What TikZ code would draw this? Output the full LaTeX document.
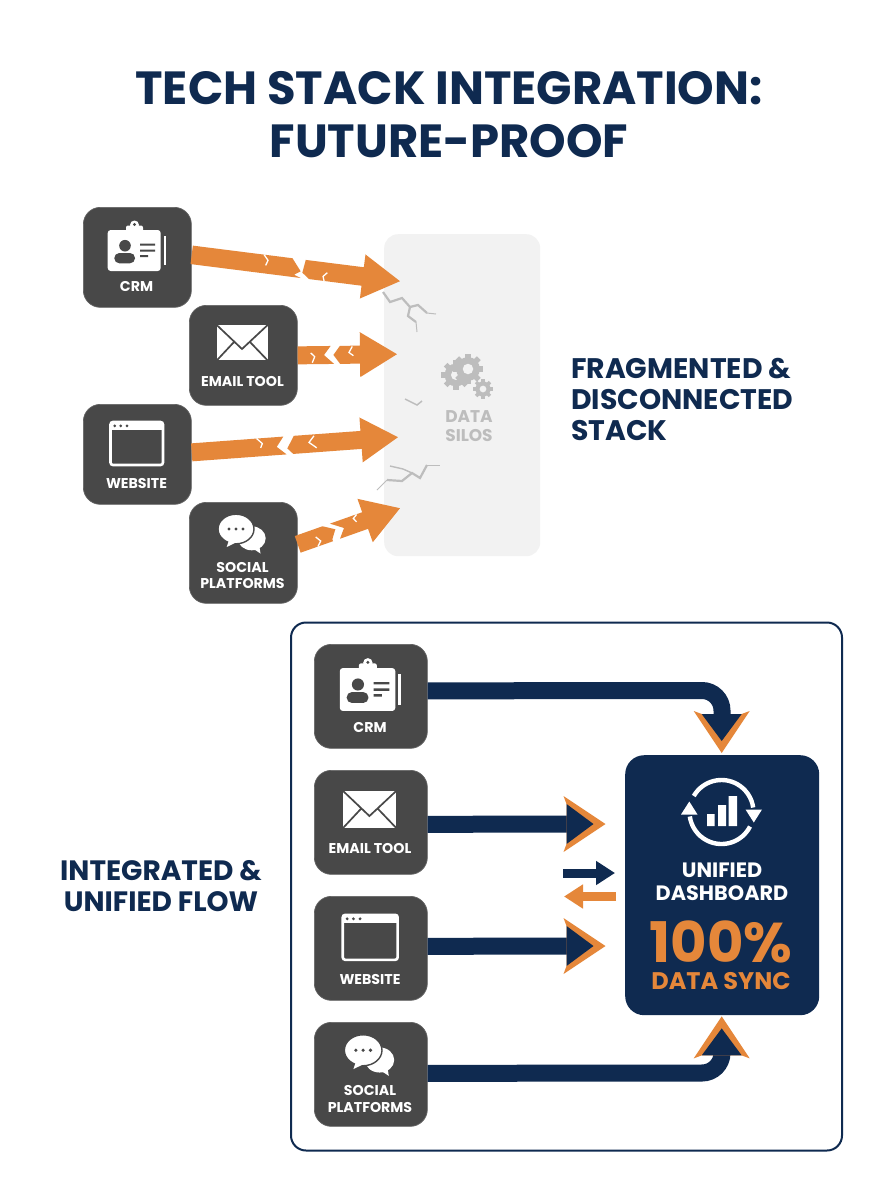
\documentclass[tikz,border=0pt]{standalone}
\usepackage{fontspec}
\setmainfont{Poppins}
\usetikzlibrary{calc,arrows.meta}
\definecolor{navy}{HTML}{0F2A50}
\definecolor{orng}{HTML}{E5873A}
\definecolor{cardc}{HTML}{484848}
\definecolor{siloc}{HTML}{F2F2F2}
\definecolor{greyt}{HTML}{BDBDBD}
\tikzset{
  cardbox/.style={draw=cardc!85!white,line width=.7pt,fill=cardc,rounded corners=17pt,inner sep=0pt,anchor=north west},
  cardlbl/.style={text=white,font=\bfseries\fontsize{14.2}{16.3}\selectfont,inner sep=0pt,align=center},
  headline/.style={text=navy,font=\bfseries\fontsize{#1}{#1}\selectfont,inner sep=0pt},
  crackl/.style={draw=#1,line width=2.2pt,line join=miter},
  whitecrack/.style={draw=white,line width=1.3pt},
  navyshaft/.style={draw=navy,line width=17pt},
  crmicon/.pic={
    \fill[white,rounded corners=3pt] (24.7,23) rectangle (77.7,64);
    \fill[white,rounded corners=2pt] (43,18.5) rectangle (60,26);
    \fill[white] (51.5,18) circle[radius=4.5pt];
    \fill[cardc] (51.5,17.5) circle[radius=1.6pt];
    \fill[white] (80.5,29) rectangle (82.7,58);
    \fill[cardc] (42,38.7) circle[radius=5.8pt];
    \fill[cardc,rounded corners=5pt] (31.3,56.3) -- (31.3,46) -- (52,46) -- (52,56.3) -- cycle;
    \fill[cardc] (57,36.5) rectangle (72,38.7) (57,42.5) rectangle (72,44.7) (57,48) rectangle (65,50.2);
  },
  mailicon/.pic={
    \fill[white] (27.7,20) rectangle (78.7,55);
    \draw[cardc,line width=1.7pt] (27.2,19.5) -- (53,44) -- (79.2,19.5) (27.7,55.5) -- (45,37) (78.7,55.5) -- (61,37);
  },
  webicon/.pic={
    \draw[white,line width=2.6pt,rounded corners=2.5pt] (27.5,18) rectangle (80,61);
    \fill[white] (27.5,18) rectangle (80,26);
    \fill[cardc] (31.7,21.8) circle[radius=1.5pt] (37.7,21.8) circle[radius=1.5pt] (44,21.8) circle[radius=1.5pt];
  },
  chaticon/.pic={
    \fill[white] (62.7,36.3) ellipse[x radius=14pt,y radius=12pt];
    \fill[white] (60,44) -- (71.5,51.5) -- (70,42) -- cycle;
    \fill[white,draw=cardc,line width=1.4pt] (47,27) ellipse[x radius=18pt,y radius=14.8pt];
    \fill[white] (40,38) -- (37.7,45) -- (48,40) -- cycle;
    \fill[cardc] (40,27) circle[radius=1.7pt] (47,27) circle[radius=1.7pt] (54,27) circle[radius=1.7pt];
  }
}
% cracked arrow: from, to, shaft half width, head half width, head length, left break, right break, cracks
\newcommand\brokenarrow[8]{%
  \path let \p1=($(#2)-(#1)$) in \pgfextra{\pgfmathsetmacro\arang{atan2(\y1,\x1)}\pgfmathsetmacro\arlen{veclen(\x1,\y1)}\xdef\arang{\arang}\xdef\arlen{\arlen}};
  \begin{scope}[shift={(#1)},rotate=\arang]
    \fill[orng] (0,-#3) -- #6 -- (0,#3) -- cycle;
    \fill[orng] #7 -- (\arlen-#5,#3) -- (\arlen-#5,#4) -- (\arlen,0) -- (\arlen-#5,-#4) -- (\arlen-#5,-#3) -- cycle;
    \draw[whitecrack] #8;
  \end{scope}}
% orange and navy arrow head: tip, direction
\newcommand\chevronhead[2]{%
  \begin{scope}[shift={(#1)},rotate=#2]
    \fill[orng] (0,0) -- (-42,-28) -- (-39,-20) -- (-39,20) -- (-42,28) -- cycle;
    \fill[navy] (-12,0) -- (-39,-20) -- (-39,20) -- cycle;
  \end{scope}}
\newcommand\gearicon[3]{%
  \foreach \a in {0,45,...,315}{\fill[greyt,shift={(#1,#2)},rotate=\a] (-#3*.22,0) rectangle (#3*.22,#3*1.22);}
  \fill[greyt] (#1,#2) circle[radius=#3*.95pt];
  \fill[siloc] (#1,#2) circle[radius=#3*.42pt];}
\begin{document}
\begin{tikzpicture}[x=1pt,y=-1pt]
\useasboundingbox (0,0) rectangle (896,1200);
\fill[white] (0,0) rectangle (896,1200);
% title
\node[headline=46.5] (title1) at (449,88) {TECH STACK INTEGRATION:};
\node[headline=46.5] (title2) at (449,141) {FUTURE-PROOF};
% silo
\node[fill=siloc,rounded corners=14pt,inner sep=0pt,minimum width=156pt,minimum height=322pt,anchor=north west] (silo) at (384,234) {};
\draw[crackl=greyt] (383,292) -- (390,302) -- (402,298) -- (410,307) -- (418,305) -- (427,313);
\draw[crackl=greyt,line width=1pt] (427,313) -- (436,314);
\draw[crackl=greyt] (410,307) -- (408,316) -- (416,322);
\draw[crackl=greyt,line width=1pt] (416,322) -- (417,332);
\draw[crackl=greyt,line width=1.5pt] (405,399) -- (417,405) -- (422,401);
\draw[crackl=greyt,line width=1pt] (377,490) -- (387,480);
\draw[crackl=greyt] (387,480) -- (402,481) -- (412,473) -- (420,478) -- (427,465);
\draw[crackl=greyt,line width=1pt] (427,465) -- (440,465);
\draw[crackl=greyt,line width=1.4pt] (390,466) -- (403,469) -- (412,473);
\gearicon{456}{375}{12}
\gearicon{468}{369}{12.5}
\gearicon{483}{389}{8}
\node[text=greyt,font=\bfseries\fontsize{17}{19}\selectfont,align=center,inner sep=0pt] (silotxt) at (469,426.5) {DATA\\SILOS};
\node[headline=25,align=left,anchor=west,font=\bfseries\fontsize{28.3}{31}\selectfont] (fraglbl) at (571,399) {FRAGMENTED \&\\DISCONNECTED\\STACK};
% upper cards
\node[cardbox,minimum width=108pt,minimum height=100pt] (crma) at (83,207) {};
\pic at (83,207) {crmicon};
\node[cardlbl] (crmat) at (136.5,286.7) {CRM};
\node[cardbox,minimum width=108pt,minimum height=100pt] (maila) at (189,305) {};
\pic at (189,305) {mailicon};
\node[cardlbl] (mailat) at (242.5,381) {EMAIL TOOL};
\node[cardbox,minimum width=108pt,minimum height=100pt] (weba) at (83,404) {};
\pic at (83,404) {webicon};
\node[cardlbl] (webat) at (136.5,483) {WEBSITE};
\node[cardbox,minimum width=108pt,minimum height=101pt] (chata) at (189,502) {};
\pic at (189,502) {chaticon};
\node[cardlbl] (chatat) at (242.5,575.7) {SOCIAL\\PLATFORMS};
% broken arrows
\coordinate (fa) at ($(crma.east)+(0,-2.5)$);
\coordinate (fb) at (maila.east);
\coordinate (fc) at ($(weba.east)+(0,-2)$);
\coordinate (fd) at ($(chata.east)+(0,-8.5)$);
\coordinate (ta) at ($(silo.west)+(16,-114)$);
\coordinate (tb) at ($(silo.west)+(13,-41)$);
\coordinate (tc) at ($(silo.west)+(14,42)$);
\coordinate (td) at ($(silo.west)+(16,113)$);
\brokenarrow{fa}{ta}{9.3}{22.2}{37.6}{(100.4,-9.3)--(110.2,2.7)--(104,6.9)--(111,9.3)}{(113.8,-9.3)--(112,3.8)--(119.5,9.3)}{(71.8,-9.3)--(76.4,-4.1)--(74.7,1.2) (136.8,.7)--(133,4.9)--(134.6,9.3)}
\brokenarrow{fb}{tb}{9}{22.5}{37}{(33,-9)--(26.3,0)--(36.3,9)}{(42.3,-9)--(35.7,0)--(42.3,9)}{(13,-2.3)--(17,1.5)--(14.5,7.5) (54.7,-8.3)--(51.3,-2.3)--(55.7,1)}
\brokenarrow{fc}{tc}{9}{22.5}{37}{(92.5,-9)--(85.2,.8)--(94.6,9)}{(103,-9)--(95.7,3.1)--(101.2,9)}{(65.8,-9)--(71.1,-3.6)--(69.1,.6) (123.1,-7.5)--(117.7,-1.3)--(125,4.6)}
\brokenarrow{fd}{td}{8.8}{23}{37}{(29.4,-8.8)--(40.5,-1.7)--(34.4,6.7)--(34.4,8.8)}{(37.3,-8.8)--(49.1,0)--(41.8,8.8)}{(19.4,-1)--(22.8,4.5)--(18.3,8.8) (65.5,-8.6)--(61.1,-5.9)--(63,-1.6)}
% lower frame
\node[draw=navy,line width=2pt,fill=white,rounded corners=15pt,inner sep=0pt,minimum width=551pt,minimum height=528pt,anchor=north west] (frame) at (290,621.5) {};
\node[headline=25,align=center,font=\bfseries\fontsize{28}{31}\selectfont] (intlbl) at (161,886.5) {INTEGRATED \&\\UNIFIED FLOW};
% dashboard
\node[fill=navy,rounded corners=19pt,inner sep=0pt,minimum width=194pt,minimum height=260pt,anchor=north west] (dash) at (625,755) {};
\coordinate (sc) at (721.5,812);
\draw[white,line width=4.4pt] ([shift={(150:32pt)}]sc) arc[start angle=150,end angle=8,radius=32pt];
\draw[white,line width=4.4pt] ([shift={(-27:32pt)}]sc) arc[start angle=-27,end angle=-172,radius=32pt];
\fill[white] (745.5,809.5) -- (762,809.5) -- (753.8,822.5) -- cycle;
\fill[white] (681,814.5) -- (697.5,814.5) -- (689.3,801.5) -- cycle;
\fill[white] (707,814) rectangle (714.5,826) (718,805) rectangle (726,826) (728.5,796) rectangle (737,826);
\node[text=white,font=\bfseries\fontsize{20.8}{23}\selectfont,align=center,inner sep=0pt] (dasht) at (722,881.5) {UNIFIED\\DASHBOARD};
\node[text=orng,font=\bfseries\fontsize{24}{27}\selectfont,align=center,inner sep=0pt,anchor=south] (dashp) at (721,989.5) {{\fontsize{56}{27}\selectfont 100\%}\\DATA SYNC};
% lower cards
\node[cardbox,minimum width=113pt,minimum height=104pt] (crmb) at (314,644) {};
\pic[scale=1.046] at (314,644) {crmicon};
\node[cardlbl] (crmbt) at (370,727) {CRM};
\node[cardbox,minimum width=113pt,minimum height=104pt] (mailb) at (314,770) {};
\pic[scale=1.046] at (314,770) {mailicon};
\node[cardlbl] (mailbt) at (370,848) {EMAIL TOOL};
\node[cardbox,minimum width=113pt,minimum height=104pt] (webb) at (314,896) {};
\pic[scale=1.046] at (314,896) {webicon};
\node[cardlbl] (webbt) at (370,979) {WEBSITE};
\node[cardbox,minimum width=113pt,minimum height=104pt] (chatb) at (314,1022) {};
\pic[scale=1.046] at (314,1022) {chaticon};
\node[cardlbl] (chatbt) at (370,1099) {SOCIAL\\PLATFORMS};
% navy connectors
\coordinate (ha) at ($(dash.north)+(-.5,-2)$);
\coordinate (hd) at ($(dash.south)+(-.5,1)$);
\coordinate (hb) at (605.5,824);
\coordinate (hc) at (605.5,946);
\draw[navyshaft] ($(crmb.east)+(0,-5.5)$) -- (702,690.5) arc[start angle=90,end angle=0,radius=20pt] -- (722,725);
\draw[navyshaft] ($(chatb.east)+(0,-1)$) -- (702,1073) arc[start angle=-90,end angle=0,radius=20pt] -- (722,1045);
\chevronhead{ha}{-90}
\chevronhead{hd}{90}
\draw[navyshaft] ($(mailb.east)+(0,2)$) -- (570,824);
\draw[navyshaft] ($(webb.east)+(0,-2)$) -- (570,946);
\chevronhead{hb}{0}
\chevronhead{hc}{0}
\coordinate (na) at (563,873);
\coordinate (nb) at (615,873);
\coordinate (oa) at (616,896.5);
\coordinate (ob) at (564,896.5);
\draw[navy,line width=9pt,-{Triangle[length=19pt,width=23pt]}] (na) -- (nb);
\draw[orng,line width=9pt,-{Triangle[length=19pt,width=23pt]}] (oa) -- (ob);
\end{tikzpicture}
\end{document}
